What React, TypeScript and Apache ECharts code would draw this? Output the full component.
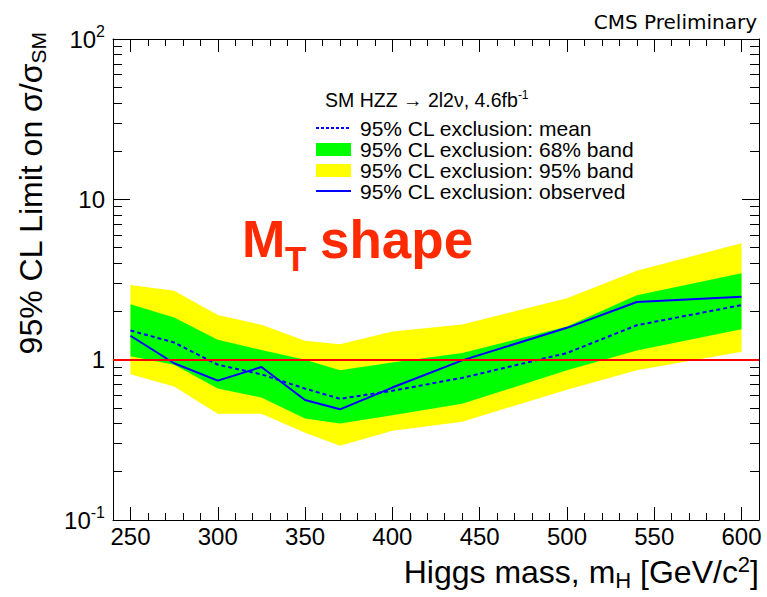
import React, { useEffect, useRef } from "react";
import * as echarts from "echarts";

// Higgs mass points [GeV/c^2]
const masses = [250, 275, 300, 325, 350, 370, 400, 440, 500, 540, 600];
// 95% CL limit on sigma/sigma_SM
const observed = [1.41, 0.95, 0.74, 0.9, 0.56, 0.49, 0.67, 0.99, 1.58, 2.29, 2.47];
const expectedMean = [1.52, 1.28, 0.93, 0.81, 0.66, 0.57, 0.64, 0.77, 1.1, 1.64, 2.19];
const band68Low = [1.05, 0.93, 0.66, 0.58, 0.43, 0.4, 0.45, 0.53, 0.86, 1.14, 1.55];
const band68High = [2.22, 1.83, 1.33, 1.15, 1.0, 0.86, 0.96, 1.1, 1.61, 2.52, 3.46];
const band95Low = [0.81, 0.68, 0.46, 0.46, 0.35, 0.29, 0.36, 0.41, 0.65, 0.86, 1.12];
const band95High = [2.92, 2.69, 1.9, 1.65, 1.31, 1.25, 1.5, 1.66, 2.42, 3.59, 5.32];
const smReference = [1];

const xMajorTicks = [250, 300, 350, 400, 450, 500, 550, 600];
const xMinorTicks = [
  250, 260, 270, 280, 290, 310, 320, 330, 340, 360, 370, 380, 390, 410, 420, 430, 440,
  460, 470, 480, 490, 510, 520, 530, 540, 560, 570, 580, 590, 600,
];
const yDecades = [-1, 0, 1, 2];
const yMinorMultipliers = [2, 3, 4, 5, 6, 7, 8, 9];

const FONT = "Liberation Sans, Arial, Helvetica, sans-serif";

function bandSeries(lo: number[], hi: number[], color: string, z: number) {
  return {
    type: "custom",
    xAxisIndex: 0,
    yAxisIndex: 0,
    z,
    silent: true,
    clip: true,
    data: masses.map((m, i) => [m, lo[i], hi[i]]),
    renderItem: (params: any, api: any) => {
      if (params.dataIndex !== 0) return null;
      const pts: number[][] = [];
      for (let i = 0; i < masses.length; i++) pts.push(api.coord([masses[i], hi[i]]));
      for (let i = masses.length - 1; i >= 0; i--) pts.push(api.coord([masses[i], lo[i]]));
      return {
        type: "polygon",
        shape: { points: pts },
        style: { fill: color, stroke: null },
      };
    },
  };
}

export default function App() {
  const ref = useRef<HTMLDivElement>(null);
  useEffect(() => {
    if (!ref.current) return;
    const chart = echarts.init(ref.current, undefined, { renderer: "svg" });
    const minorY: number[] = [];
    yDecades.slice(0, 3).forEach((e) =>
      yMinorMultipliers.forEach((k) => minorY.push(e + Math.log10(k)))
    );
    const grid = { left: 113, right: 8, top: 39, bottom: 77 };
    const tickLine = { color: "#000", width: 1 };
    const xBase = (pos: string, major: boolean, showLine: boolean, labels: boolean) => ({
      type: "value",
      min: 240,
      max: 610,
      position: pos,
      axisLine: { show: showLine, onZero: false, lineStyle: tickLine },
      axisTick: {
        show: true,
        inside: true,
        length: major ? 13 : 7,
        customValues: major ? xMajorTicks : xMinorTicks,
        lineStyle: tickLine,
      },
      axisLabel: labels
        ? {
            show: true,
            customValues: xMajorTicks,
            fontSize: 24,
            fontFamily: FONT,
            color: "#000",
            margin: 4,
          }
        : { show: false },
      splitLine: { show: false },
    });
    const yBase = (pos: string, major: boolean, showLine: boolean, labels: boolean) => ({
      type: "value",
      min: -1,
      max: 2,
      position: pos,
      axisLine: { show: showLine, onZero: false, lineStyle: tickLine },
      axisTick: {
        show: true,
        inside: true,
        length: major ? 17 : 9,
        customValues: major ? yDecades : minorY,
        lineStyle: tickLine,
      },
      axisLabel: labels
        ? {
            show: true,
            customValues: yDecades,
            margin: 8,
            color: "#000",
            fontFamily: FONT,
            formatter: (v: number) => {
              const e = Math.round(v);
              if (e === 0) return "{b|1}";
              if (e === 1) return "{b|10}";
              return `{b|10}{s|${e}}`;
            },
            rich: {
              b: { fontSize: 24, fontFamily: FONT, color: "#000", lineHeight: 32 },
              s: {
                fontSize: 16,
                fontFamily: FONT,
                color: "#000",
                lineHeight: 16,
                verticalAlign: "top",
              },
            },
          }
        : { show: false },
      splitLine: { show: false },
    });

    const legendX = 316;
    const legendTextX = 360;
    const rows = [128, 149, 170, 191];
    const red = "#ff2a00";

    chart.setOption({
      animation: false,
      backgroundColor: "#fff",
      textStyle: { fontFamily: FONT },
      grid,
      xAxis: [
        xBase("bottom", true, true, true),
        xBase("bottom", false, false, false),
        xBase("top", true, true, false),
        xBase("top", false, false, false),
      ],
      yAxis: [
        {
          type: "log",
          logBase: 10,
          min: 0.1,
          max: 100,
          show: false,
          splitLine: { show: false },
        },
        yBase("left", true, true, true),
        yBase("left", false, false, false),
        yBase("right", true, true, false),
        yBase("right", false, false, false),
      ],
      series: [
        bandSeries(band95Low, band95High, "#ffff00", 1),
        bandSeries(band68Low, band68High, "#00ff00", 2),
        {
          type: "line",
          name: "mean",
          xAxisIndex: 0,
          yAxisIndex: 0,
          z: 3,
          data: masses.map((m, i) => [m, expectedMean[i]]),
          symbol: "none",
          lineStyle: { color: "#0000ff", width: 2, type: [4, 3] },
        },
        {
          type: "line",
          name: "observed",
          xAxisIndex: 0,
          yAxisIndex: 0,
          z: 4,
          data: masses.map((m, i) => [m, observed[i]]),
          symbol: "none",
          lineStyle: { color: "#0000ff", width: 2 },
          markLine: {
            silent: true,
            symbol: "none",
            label: { show: false },
            lineStyle: { color: "#ff0000", width: 2, type: "solid" },
            data: smReference.map((v) => ({ yAxis: v })),
          },
        },
      ],
      graphic: [
        {
          type: "text",
          x: 757,
          y: 22,
          style: {
            text: "CMS Preliminary",
            font: "20px 'DejaVu Sans'",
            fill: "#000",
            align: "right",
            verticalAlign: "middle",
          },
        },
        {
          type: "text",
          x: 31,
          y: 32,
          rotation: Math.PI / 2,
          style: {
            text: "{b|95% CL Limit on σ/σ}{s|SM}",
            font: `32px ${FONT}`,
            fill: "#000",
            align: "right",
            verticalAlign: "middle",
            rich: {
              b: { fontSize: 32, fontFamily: FONT, lineHeight: 36 },
              s: { fontSize: 21, fontFamily: FONT, lineHeight: 14, verticalAlign: "bottom" },
            },
          },
        },
        {
          type: "text",
          x: 759,
          y: 572,
          style: {
            text: "{b|Higgs mass, m}{s|H}{b| [GeV/c}{p|2}{b|]}",
            font: `32px ${FONT}`,
            fill: "#000",
            align: "right",
            verticalAlign: "middle",
            rich: {
              b: { fontSize: 32, fontFamily: FONT, lineHeight: 38 },
              s: { fontSize: 22, fontFamily: FONT, lineHeight: 12, verticalAlign: "bottom" },
              p: { fontSize: 22, fontFamily: FONT, lineHeight: 14, verticalAlign: "top" },
            },
          },
        },
        {
          type: "text",
          x: 242,
          y: 239,
          style: {
            text: "M",
            font: `bold 52px ${FONT}`,
            fill: red,
            align: "left",
            verticalAlign: "middle",
          },
        },
        {
          type: "text",
          x: 285,
          y: 258,
          style: {
            text: "T",
            font: `bold 35px ${FONT}`,
            fill: red,
            align: "left",
            verticalAlign: "middle",
          },
        },
        {
          type: "text",
          x: 320,
          y: 239,
          style: {
            text: "shape",
            font: `bold 53px ${FONT}`,
            fill: red,
            align: "left",
            verticalAlign: "middle",
          },
        },
        {
          type: "text",
          x: 325,
          y: 100,
          style: {
            text: "{b|SM HZZ → 2l2ν, 4.6fb}{p|-1}",
            font: `19px ${FONT}`,
            fill: "#000",
            align: "left",
            verticalAlign: "middle",
            rich: {
              b: { fontSize: 19.5, fontFamily: FONT, lineHeight: 22 },
              p: { fontSize: 12, fontFamily: FONT, lineHeight: 12, verticalAlign: "top" },
            },
          },
        },
        {
          type: "line",
          shape: { x1: legendX, y1: rows[0], x2: legendX + 35, y2: rows[0] },
          style: { stroke: "#0000ff", lineWidth: 2, lineDash: [3, 2] },
        },
        {
          type: "rect",
          shape: { x: legendX, y: rows[1] - 6, width: 35, height: 13 },
          style: { fill: "#00ff00" },
        },
        {
          type: "rect",
          shape: { x: legendX, y: rows[2] - 6, width: 35, height: 13 },
          style: { fill: "#ffff00" },
        },
        {
          type: "line",
          shape: { x1: legendX, y1: rows[3], x2: legendX + 35, y2: rows[3] },
          style: { stroke: "#0000ff", lineWidth: 2 },
        },
        ...[
          "95% CL exclusion: mean",
          "95% CL exclusion: 68% band",
          "95% CL exclusion: 95% band",
          "95% CL exclusion: observed",
        ].map((t, i) => ({
          type: "text",
          x: legendTextX,
          y: rows[i],
          style: {
            text: t,
            font: `21px ${FONT}`,
            fill: "#000",
            align: "left",
            verticalAlign: "middle",
          },
        })),
      ],
    });
    return () => chart.dispose();
  }, []);
  return (
    <div
      ref={ref}
      style={{ position: "fixed", left: 0, top: 0, width: 767, height: 597, background: "#fff" }}
    />
  );
}
